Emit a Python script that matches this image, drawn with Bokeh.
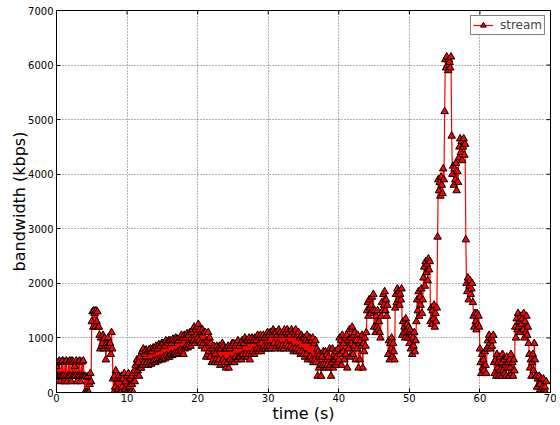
from bokeh.plotting import figure
from bokeh.models import ColumnDataSource, FixedTicker, Range1d
from bokeh.embed import file_html
from bokeh.resources import INLINE

# sampling step of the stream (s)
time_step = 0.1

# bandwidth samples (kbps), one row per second, 10 samples per second
bandwidth_rows = [
    [480, 300, 550, 280, 580, 200, 300, 560, 300, 580],      # 0
    [300, 200, 560, 300, 580, 200, 300, 560, 300, 580],      # 1
    [300, 200, 580, 300, 560, 300, 480, 300, 580, 200],      # 2
    [300, 560, 300, 580, 200, 300, 560, 300, 580, 300],      # 3
    [0, 300, 0, 280, 0, 300, 0, 150, 350, 200],              # 4
    [1300, 1480, 1200, 1500, 1450, 1200, 1500, 1300, 1480, 1200],  # 5
    [1200, 1050, 800, 1000, 850, 900, 1050, 800, 1000, 850], # 6
    [600, 900, 850, 1000, 800, 850, 900, 700, 1100, 800],    # 7
    [250, 0, 300, 100, 400, 0, 250, 50, 300, 0],             # 8
    [250, 0, 300, 100, 250, 0, 350, 50, 200, 0],             # 9
    [300, 0, 350, 100, 250, 0, 300, 150, 350, 0],            # 10
    [400, 200, 500, 350, 600, 400, 550, 300, 650, 450],      # 11
    [450, 750, 500, 800, 550, 700, 500, 780, 550, 750],      # 12
    [500, 780, 550, 800, 520, 750, 560, 820, 580, 800],      # 13
    [550, 850, 600, 800, 580, 880, 620, 850, 600, 900],      # 14
    [600, 900, 650, 850, 620, 950, 680, 900, 650, 950],      # 15
    [650, 950, 700, 900, 680, 980, 700, 950, 720, 1000],     # 16
    [700, 980, 750, 950, 720, 1000, 780, 1050, 750, 1000],   # 17
    [700, 1050, 800, 1000, 850, 1080, 820, 1050, 880, 1100], # 18
    [850, 1100, 900, 1150, 950, 1200, 900, 1150, 950, 1200], # 19
    [1000, 1250, 950, 1150, 900, 1100, 850, 1150, 900, 1100],# 20
    [800, 1100, 650, 950, 700, 1100, 750, 1000, 650, 900],   # 21
    [550, 800, 600, 850, 550, 700, 600, 850, 550, 800],      # 22
    [600, 850, 500, 800, 550, 900, 600, 850, 550, 800],      # 23
    [450, 800, 550, 850, 450, 800, 600, 850, 550, 900],      # 24
    [600, 900, 550, 850, 650, 900, 600, 950, 650, 850],      # 25
    [650, 900, 600, 950, 700, 900, 650, 1000, 700, 950],     # 26
    [650, 950, 700, 1000, 600, 950, 700, 1000, 750, 950],    # 27
    [700, 1000, 750, 950, 800, 1050, 750, 1000, 800, 1050],  # 28
    [750, 1000, 800, 1050, 850, 1000, 800, 1050, 850, 1100], # 29
    [800, 1050, 850, 1100, 800, 1050, 850, 1150, 900, 1100], # 30
    [800, 1100, 850, 1050, 900, 1150, 850, 1100, 800, 1050], # 31
    [850, 1100, 800, 1150, 850, 1100, 900, 1150, 850, 1100], # 32
    [800, 1050, 850, 1150, 800, 1100, 750, 1050, 800, 1150], # 33
    [750, 1050, 800, 1100, 750, 1000, 700, 1050, 750, 1000], # 34
    [700, 1000, 650, 950, 700, 1050, 600, 950, 650, 1000],   # 35
    [650, 950, 600, 1000, 550, 900, 600, 950, 550, 800],     # 36
    [300, 750, 450, 700, 500, 300, 650, 500, 750, 450],      # 37
    [500, 750, 450, 700, 500, 650, 450, 800, 500, 300],      # 38
    [550, 800, 450, 700, 600, 750, 500, 650, 550, 800],      # 39
    [600, 1000, 700, 950, 500, 1050, 750, 900, 600, 1000],   # 40
    [700, 1050, 450, 950, 800, 1150, 650, 1000, 900, 1200],  # 41
    [700, 1050, 850, 1100, 600, 950, 800, 1050, 450, 900],   # 42
    [600, 950, 850, 1050, 450, 900, 750, 1000, 850, 1100],   # 43
    [1500, 1650, 1400, 1700, 1550, 1450, 1600, 1750, 1500, 1800],  # 44
    [1200, 1500, 1100, 1400, 1200, 1500, 1150, 1300, 1100, 1000],  # 45
    [1400, 1650, 1500, 1800, 1600, 1850, 1500, 1700, 1400, 1600],  # 46
    [700, 950, 600, 900, 800, 1000, 650, 900, 750, 600],     # 47
    [1550, 1800, 1650, 1900, 1700, 1850, 1600, 1800, 1700, 1900],  # 48
    [1050, 1300, 1100, 1200, 1000, 1350, 1150, 1250, 1000, 1200],  # 49
    [900, 1150, 800, 1050, 700, 1000, 850, 1100, 750, 950],  # 50
    [1300, 1700, 1500, 1850, 1400, 1750, 1600, 1900, 1450, 1700],  # 51
    [2100, 2300, 1950, 2400, 2200, 2350, 2050, 2450, 2250, 2400],  # 52
    [1300, 1550, 1250, 1500, 1350, 1600, 1200, 1450, 1300, 1550],  # 53
    [2850, 3900, 3700, 3850, 3600, 3950, 3800, 3650, 4100, 3900],  # 54
    [5150, 6100, 5950, 6150, 6000, 5900, 6100, 6050, 5950, 6150],  # 55
    [4700, 4000, 4150, 3800, 4100, 3900, 4200, 3700, 4050, 3850],  # 56
    [4300, 4500, 4650, 4400, 4600, 4250, 4500, 4650, 4350, 4550],  # 57
    [2800, 2000, 1850, 2100, 1700, 1950, 2050, 1800, 1900, 2000],  # 58
    [1650, 1400, 1200, 1450, 1300, 1150, 1450, 1250, 1400, 1200],  # 59
    [800, 550, 350, 700, 450, 600, 400, 750, 500, 350],      # 60
    [800, 950, 850, 1050, 900, 800, 1000, 850, 950, 1050],   # 61
    [550, 350, 600, 300, 700, 450, 550, 300, 650, 400],      # 62
    [550, 300, 700, 400, 600, 350, 500, 300, 650, 450],      # 63
    [550, 300, 600, 450, 700, 350, 550, 300, 600, 400],      # 64
    [1200, 1000, 1350, 1150, 1450, 1200, 1300, 1100, 1400, 1250],  # 65
    [1350, 1150, 1450, 1000, 1300, 1100, 1400, 1050, 1200, 900],   # 66
    [700, 450, 600, 300, 550, 700, 400, 900, 600, 300],      # 67
    [300, 100, 250, 0, 300, 150, 50, 250, 0, 100],           # 68
    [250, 50, 100, 0, 200],                                  # 69
]

x_ticks = [0, 10, 20, 30, 40, 50, 60, 70]
y_ticks = [0, 1000, 2000, 3000, 4000, 5000, 6000, 7000]
x_min, x_max = 0, 70
y_min, y_max = 0, 7000

bandwidth = [v for row in bandwidth_rows for v in row]
times = [round(i * time_step, 2) for i in range(len(bandwidth))]
source = ColumnDataSource(data=dict(t=times, bw=bandwidth))

FONT = "DejaVu Sans"

p = figure(width=556, height=425, output_backend="svg", toolbar_location=None,
           x_range=Range1d(x_min, x_max), y_range=Range1d(y_min, y_max),
           min_border_left=56, min_border_right=6, min_border_top=10, min_border_bottom=31)

p.line("t", "bw", source=source, line_color="#ff0000", line_width=1.2, legend_label="stream")
p.scatter("t", "bw", source=source, marker="triangle", size=7.5, fill_color="#ff0000",
          line_color="black", line_width=1, legend_label="stream")

# mirrored inward ticks on the top and right frame edges (matplotlib classic look)
tick_len_x = (x_max - x_min) * 4 / 494
tick_len_y = (y_max - y_min) * 4 / 384
p.segment(x0=x_ticks, y0=[y_max] * len(x_ticks), x1=x_ticks,
          y1=[y_max - tick_len_y] * len(x_ticks), line_color="black", line_width=1)
p.segment(x0=[x_max] * len(y_ticks), y0=y_ticks, x1=[x_max - tick_len_x] * len(y_ticks),
          y1=y_ticks, line_color="black", line_width=1)

p.outline_line_color = "black"
p.outline_line_width = 1

for ax in (p.xaxis[0], p.yaxis[0]):
    ax.major_tick_in = 4
    ax.major_tick_out = 0
    ax.minor_tick_in = 0
    ax.minor_tick_out = 0
    ax.axis_line_color = "black"
    ax.major_label_text_font = FONT
    ax.major_label_text_font_size = "10px"
    ax.major_label_text_color = "black"
    ax.axis_label_text_font = FONT
    ax.axis_label_text_font_size = "16px"
    ax.axis_label_text_font_style = "normal"
    ax.axis_label_text_color = "black"

p.xaxis[0].ticker = FixedTicker(ticks=x_ticks)
p.yaxis[0].ticker = FixedTicker(ticks=y_ticks)
p.xaxis[0].axis_label = "time (s)"
p.yaxis[0].axis_label = "bandwidth (kbps)"
p.xaxis[0].major_label_standoff = 1
p.yaxis[0].major_label_standoff = 3
p.xaxis[0].axis_label_standoff = -1
p.yaxis[0].axis_label_standoff = -4

p.xgrid.ticker = FixedTicker(ticks=x_ticks)
p.ygrid.ticker = FixedTicker(ticks=y_ticks)
for g in (p.xgrid[0], p.ygrid[0]):
    g.grid_line_color = "black"
    g.grid_line_alpha = 0.6
    g.grid_line_dash = "1 2"
    g.grid_line_width = 1

leg = p.legend[0]
leg.location = "top_right"
leg.border_line_color = "black"
leg.border_line_width = 1
leg.background_fill_color = "white"
leg.label_text_font = FONT
leg.label_text_font_size = "12px"
leg.padding = 2
leg.margin = 5
leg.glyph_width = 20
leg.glyph_height = 14
leg.label_standoff = 7
leg.spacing = 0

open("out.html", "w").write(file_html(p, INLINE))
